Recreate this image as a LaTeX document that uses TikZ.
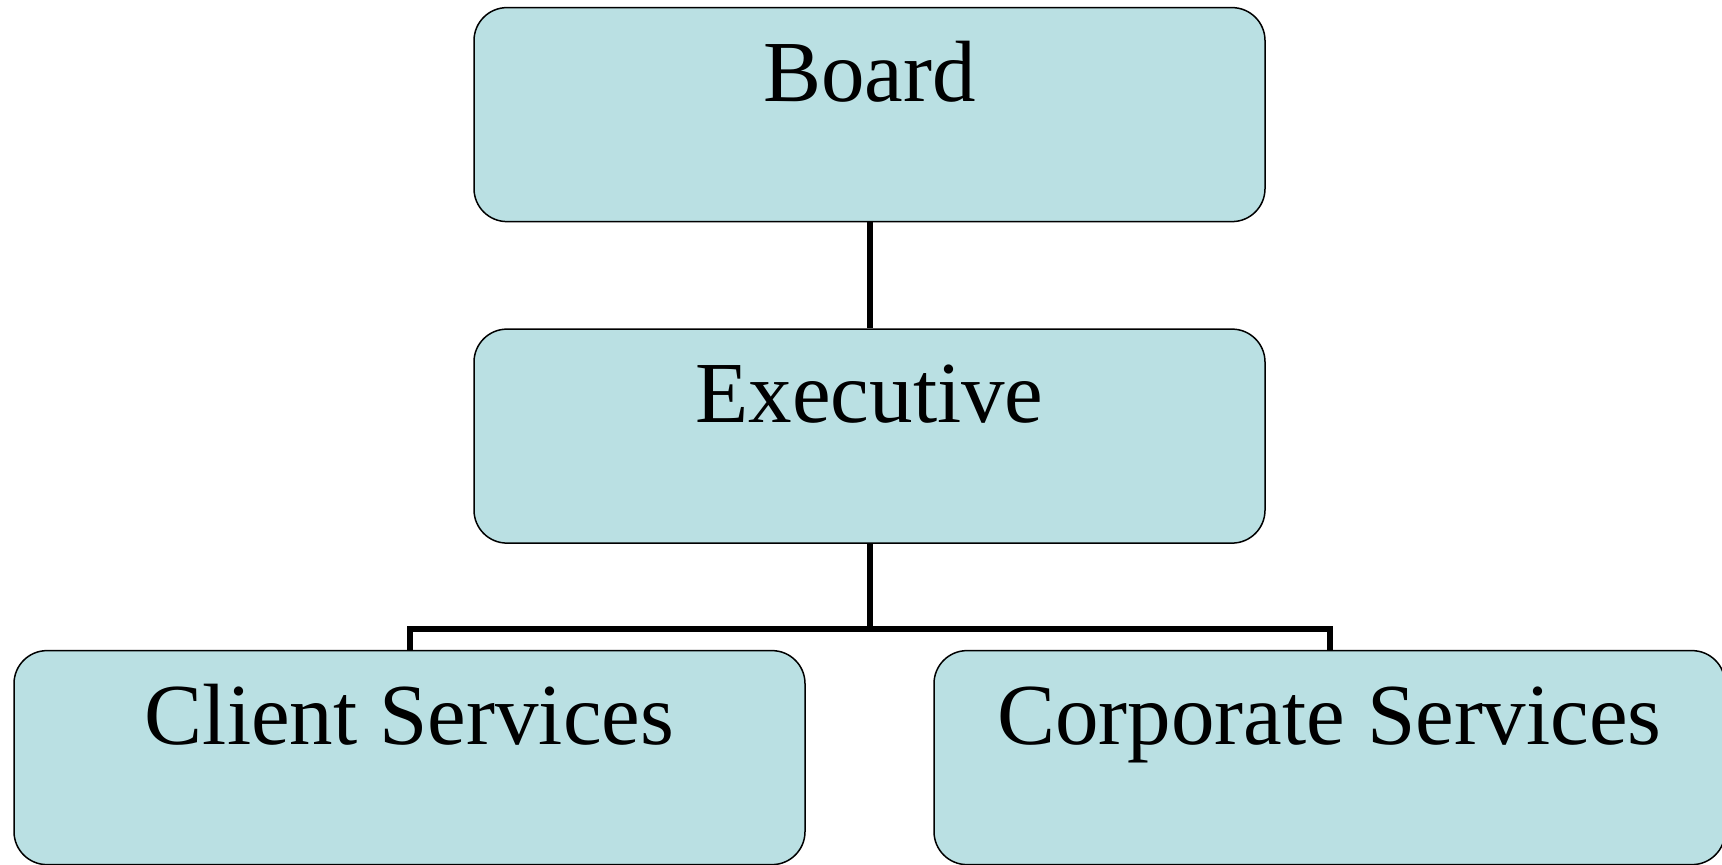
\documentclass[tikz,border=0pt]{standalone}
\usepackage{fontspec}
\setmainfont{Liberation Serif}
\usepackage{tikz}
\usetikzlibrary{positioning}

\definecolor{boxblue}{RGB}{186,224,227}

\begin{document}
\begin{tikzpicture}[unit/.style={shape=rectangle, rounded corners=16.5pt, draw, line width=0.75pt, fill=boxblue, inner sep=0pt, minimum width=395.5pt, text height=46.75pt, text depth=60.25pt, font=\fontsize{43.5pt}{52pt}\selectfont},
	level distance=160.75pt,
	level 2/.style={sibling distance=460pt, edge from parent path={(\tikzparentnode.south) -- ++(0,-42.5pt) -| (\tikzchildnode.north)}},
	edge from parent/.style={draw, line width=3pt}]
\useasboundingbox (0,0) rectangle (861pt,-432pt);
\node [unit] (board) at (434.75pt,-57.3pt){Board}
	child { node [unit] (exec){Executive}
		child { node [unit] (client){Client Services}
		}
		child { node [unit] (corp){Corporate Services}
		}
	}

;
\end{tikzpicture}
\end{document}
